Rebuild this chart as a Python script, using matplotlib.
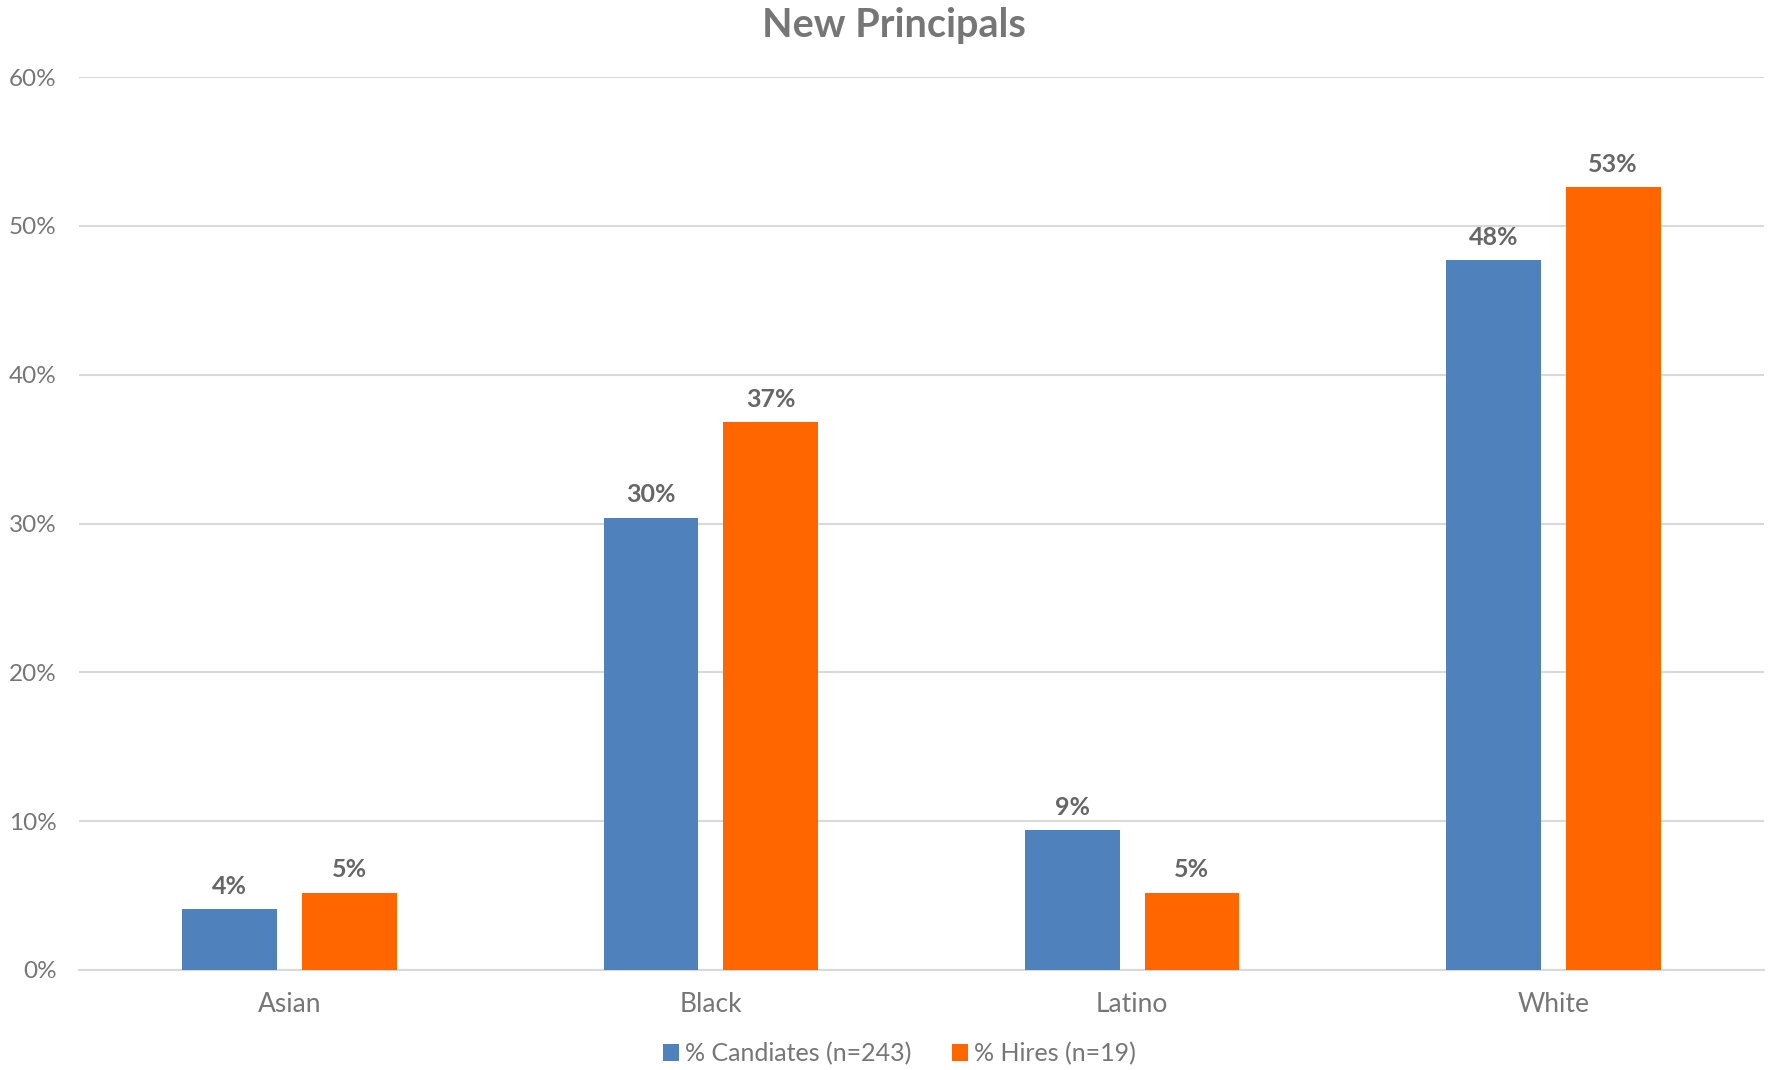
import matplotlib.pyplot as plt
import numpy as np
from matplotlib.ticker import PercentFormatter

# data
categories = ['Asian', 'Black', 'Latino', 'White']
candidates = [4.1, 30.4, 9.4, 47.7]
hires = [5.2, 36.8, 5.2, 52.6]
cand_labels = ['4%', '30%', '9%', '48%']
hire_labels = ['5%', '37%', '5%', '53%']

plt.rcParams['font.family'] = ['Lato', 'DejaVu Sans']

fig = plt.figure(figsize=(17.73, 10.70), dpi=100)
ax = fig.add_axes([79 / 1773, 1 - 970 / 1070, (1764 - 79) / 1773, (970 - 77) / 1070])

x = np.arange(len(categories))
w = 0.225
off = 0.142
b1 = ax.bar(x - off, candidates, w, color='#4F81BD', label='% Candiates (n=243)', zorder=3)
b2 = ax.bar(x + off, hires, w, color='#FF6600', label='% Hires (n=19)', zorder=3)

for bars, labs in ((b1, cand_labels), (b2, hire_labels)):
    for b, lab in zip(bars, labs):
        ax.annotate(lab, (b.get_x() + b.get_width() / 2, b.get_height()),
                    xytext=(0, 8), textcoords='offset points', ha='center', va='bottom',
                    fontsize=18, fontweight='bold', color='#666666')

ax.set_ylim(0, 60)
ax.set_xlim(-0.5, 3.5)
ax.set_yticks(range(0, 61, 10))
ax.yaxis.set_major_formatter(PercentFormatter(decimals=0))
ax.grid(axis='y', color='#d9d9d9', linewidth=1.5, zorder=0)
for s in ['top', 'right', 'left']:
    ax.spines[s].set_visible(False)
ax.spines['bottom'].set_color('#d9d9d9')
ax.spines['bottom'].set_linewidth(1.5)
ax.set_xticks(x)
ax.set_xticklabels(categories)
ax.tick_params(axis='y', length=0, labelsize=17.5, labelcolor='#767676', pad=16)
ax.tick_params(axis='x', length=0, labelsize=19, labelcolor='#767676', pad=16)

fig.suptitle('New Principals', x=0.504, y=0.993, fontsize=28.5, fontweight='bold', color='#767676')

ax.legend(loc='center', bbox_to_anchor=(0.487, -0.094), ncol=2, frameon=False,
          fontsize=18, labelcolor='#767676', handlelength=0.65, handleheight=0.65,
          handletextpad=0.25, columnspacing=1.6)

fig.savefig('out.png', dpi=100)
